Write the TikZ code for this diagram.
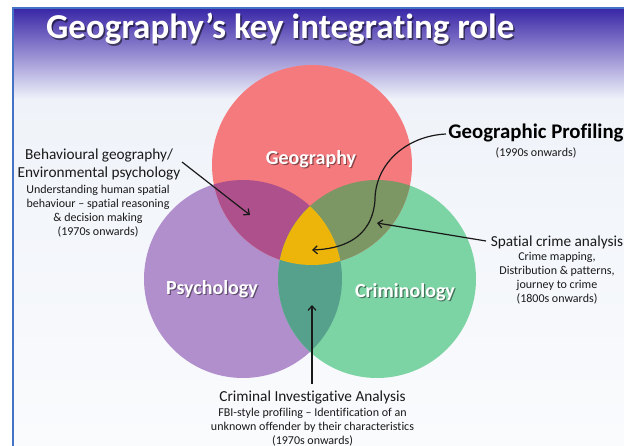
\documentclass[tikz,border=0pt]{standalone}
\usepackage{fontspec}
\setmainfont[Ligatures=CommonOff]{Carlito}
\usetikzlibrary{arrows.meta}

\definecolor{geocol}{RGB}{245,122,126}
\definecolor{psycol}{RGB}{177,142,204}
\definecolor{crimcol}{RGB}{124,211,164}
\definecolor{geopsy}{RGB}{173,80,140}
\definecolor{geocrim}{RGB}{124,150,100}
\definecolor{psycrim}{RGB}{86,161,139}
\definecolor{allthree}{RGB}{237,181,10}
\definecolor{bandtop}{RGB}{56,38,166}
\definecolor{bandmid}{RGB}{150,140,210}
\definecolor{slidebg}{RGB}{239,243,249}
\definecolor{slidebot}{RGB}{250,251,253}
\definecolor{frameblue}{RGB}{68,114,196}
\definecolor{ink}{RGB}{25,25,25}

\tikzset{
  headtext/.style={font=\fontsize{15.3}{18}\selectfont, text=ink, inner sep=0pt},
  subtext/.style={font=\fontsize{12}{14}\selectfont, text=ink, align=center, inner sep=0pt},
  circlabel/.style={font=\bfseries\fontsize{20}{24}\selectfont, text=white, inner sep=0pt},
  circshadow/.style={font=\bfseries\fontsize{20}{24}\selectfont, text=black, opacity=0.45, inner sep=0pt},
  pointer/.style={draw=ink, line width=1.2pt, -{Straight Barb[length=4.5pt,width=8pt]}},
}

\begin{document}
\begin{tikzpicture}[x=1pt,y=-1pt]
\useasboundingbox (0,0) rectangle (624,446);
\clip (0,0) rectangle (624,446);

% slide backdrop and title band
\fill[white] (0,0) rectangle (624,446);
\shade[top color=slidebg, bottom color=slidebot] (13,98) rectangle (624,446);
\shade[top color=bandtop, bottom color=bandmid] (13,8) rectangle (624,54);
\shade[top color=bandmid, bottom color=slidebg] (13,54) rectangle (624,99);
\draw[frameblue, line width=1.6pt] (13,450) -- (13,8) -- (630,8);

% title
\node[anchor=base west, font=\bfseries\fontsize{35}{40}\selectfont, text=black, opacity=0.5, inner sep=0pt] (titleshadow) at (47.5,40.5) {Geography’s key integrating role};
\node[anchor=base west, font=\bfseries\fontsize{35}{40}\selectfont, text=white, inner sep=0pt] (title) at (46,39) {Geography’s key integrating role};

% the three circles
\def\geopath{(312,165) circle[radius=100]}
\def\psypath{(243,279) circle[radius=99]}
\def\crimpath{(377,279) circle[radius=99]}
\fill[psycol] \psypath;
\fill[crimcol] \crimpath;
\fill[geocol] \geopath;
\begin{scope}
  \clip \geopath;
  \fill[geopsy] \psypath;
  \fill[geocrim] \crimpath;
\end{scope}
\begin{scope}
  \clip \psypath;
  \fill[psycrim] \crimpath;
\end{scope}
\begin{scope}
  \clip \geopath;
  \clip \psypath;
  \fill[allthree] \crimpath;
\end{scope}

% circle labels
\node[circshadow] (geoshadow) at (312.2,160.2) {Geography};
\node[circlabel] (geolabel) at (311,159) {Geography};
\node[circshadow] (psyshadow) at (213.2,290.2) {Psychology};
\node[circlabel] (psylabel) at (212,289) {Psychology};
\node[circshadow] (crimshadow) at (406.2,293.2) {Criminology};
\node[circlabel] (crimlabel) at (405,292) {Criminology};

% behavioural geography
\node[headtext] (behav1) at (99,156) {Behavioural geography/};
\node[headtext] (behav2) at (99,174) {Environmental psychology};
\node[subtext, anchor=north] (behavsub) at (98,185) {Understanding human spatial\\behaviour – spatial reasoning\\\& decision making\\(1970s onwards)};

% geographic profiling
\node[font=\bfseries\fontsize{20.8}{24}\selectfont, text=black, inner sep=0pt] (geoprof) at (536,133) {Geographic Profiling};
\node[subtext] (geoprofsub) at (536,153) {(1990s onwards)};

% spatial crime analysis
\node[headtext] (spatial) at (557,242) {Spatial crime analysis};
\node[subtext, anchor=north] (spatialsub) at (557,252) {Crime mapping,\\Distribution \& patterns,\\journey to crime\\(1800s onwards)};

% criminal investigative analysis
\node[headtext] (cia) at (312.5,398) {Criminal Investigative Analysis};
\node[subtext, anchor=north] (ciasub) at (312.5,408) {FBI-style profiling – Identification of an\\unknown offender by their characteristics\\(1970s onwards)};

% pointer ends
\coordinate (behavfrom) at (182,162);
\coordinate (behavto) at (250,215);
\coordinate (proffrom) at (446,134);
\coordinate (profto) at (312,250);
\coordinate (spatfrom) at (486,241);
\coordinate (spatto) at (377,223);
\coordinate (ciafrom) at (312,384);
\coordinate (ciato) at (312,305);

\draw[pointer] (behavfrom) -- (behavto);
\draw[pointer] (proffrom) .. controls (405,136) and (375,165) .. (375,200)
               .. controls (372,240) and (340,249) .. (profto);
\draw[pointer] (spatfrom) -- (spatto);
\draw[pointer] (ciafrom) -- (ciato);
\end{tikzpicture}
\end{document}
